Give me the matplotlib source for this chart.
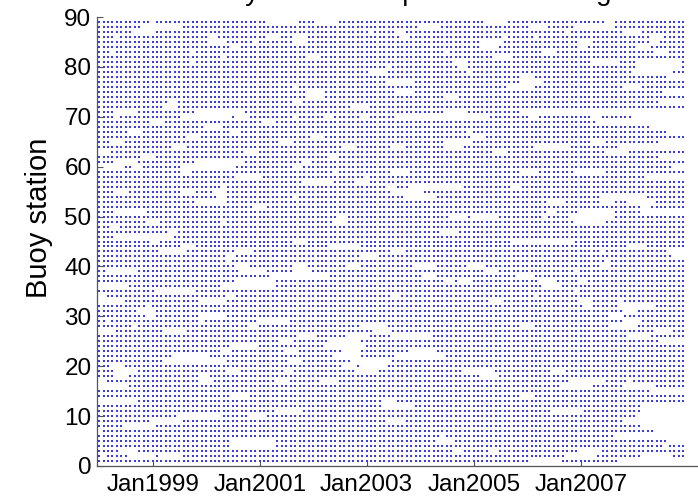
import numpy as np
import pandas as pd
import matplotlib
matplotlib.use('Agg')
import matplotlib.pyplot as plt

plt.rcParams['font.family'] = ['Liberation Sans', 'DejaVu Sans']

# monthly records, Jan 1998 .. Dec 2008
months = pd.date_range('1998-01-01', '2008-12-01', freq='MS')
stations = np.arange(1, 90)

# months with no record for each station (0 = Jan 1998), station 1 first
missing = [
    "97-103 117-131",                           # 1
    "1 7-12 14-18 105-111 122-128",
    "5-8 80-81 88-89 108-112",
    "30-39 127",
    "30-39 76-79 128-131",
    "77 116-131",
    "0 125-131",
    "6-12 122-131",
    "12-18 65-68 118-131",
    "18-27 34-37 121-131",                      # 10
    "40-45 102-108 122-131",
    "64-70 122-131",
    "0-8 64-66",
    "30-33 95-97",
    "124-131",
    "0-6 104-110 118-124",
    "0-1 23-25 40-42 50-53 106-113 119",
    "4-6 23-24 86-89",
    "4-8 29-31 42-43 58-62 82-88 102-104",
    "3-5 55-57 59-64",                          # 20
    "15-28 43-45 57-65",
    "17-24 53-58 67-77",
    "28-29 42-44 55-58 70-75",
    "30-35 51-59",
    "41-43 52-58 126-131",
    "45-48 56-60 66-74 119-123",
    "0-3 15-19 62-65 125-128",
    "8 34-35 59-64 95-97 115-120",
    "2 23 36-42 118-121",
    "11-12 23-28 115-117",                      # 30
    "9-12 118-120",
    "11 109-110 117-124",
    "0-5 23-28 88-90 108-110 117",
    "0-1 29-30 66-67 98",
    "13-21 107",
    "0-6 28-39 100-103",
    "31-39 78-79 81-83 99-102 108-109",
    "39-51 73-75 94-97",
    "2-8 32-37 44-47 87-89 107",
    "31-33 44-46 56-58 71-75 83-86 113-114",    # 40
    "29 114",
    "29-30 59-62 129-131",
    "14-19 31-34 66-68 113 128-131",
    "19-21 52-58 119-122",
    "12-13 44-46 93-106",
    "4-16",
    "16-17 77-80",
    "3-4",
    "11-13 28 53-55 107-113",
    "54-55 79-82 84-89 100 106-115",            # 50
    "4-10 101-102 108-115 122-131",
    "35-37 122-123",
    "22-28 101-104 113-115 119-124",
    "27-28 44 69-75 113-122",
    "4-6 19-21 26-28 66-72",
    "28 65-66 70-81 93-94",
    "46-52 58-60",
    "31-36 60 123-131",
    "19-20 53 66-69 95-98 107-113",
    "0-5 8-9 19-30 44-45 129-131",              # 60
    "4-8 22-32 46-47",
    "10-12 52-53 126-131",
    "0-2 33-35 89-91 114-118",
    "17-19 55-57 66-68 78-81 98-105 117-131",
    "3-5 41-43 78-83 111-113 126-131",
    "20-22 48-50 84-86",
    "7-9 30-31 83 128-131",
    "24-27 124-131",
    "12-14 37-39 112-131",
    "4 19-29 31-33 44 51-52 59-60 67-87 97-98 111-112 120-131",  # 70
    "4-8 22-32 78-82 95-131",
    "15-17 57-60",
    "16-17 44-45 126-131",
    "47-50 78-80",
    "47-50 67-70 127-131",
    "44 92-97 118-121",
    "65-70 95-99",
    "95-97 128-131",
    "61-64 83 120-128",
    "65 81-82 121-130",                         # 80
    "21 80-82 111-116 121-130",
    "28 47-49 89-92",
    "3 21 78 100-102 125-127",
    "30-31 86-89 108-109 121-123",
    "25-28 35 44-46 86-90 108-110 124-125",
    "4 25-26 38-40 44-46 68-69 91 98 124-126",
    "8-12 61 67-68 105 118-121",
    "10-18 72-76 97-100 107-115",
    "12 38-44 49-53 87-91 114-115",             # 89
]

tick_years = [1999, 2001, 2003, 2005, 2007]


def gap_months(spec):
    idx = []
    for part in spec.split():
        if '-' in part:
            a, b = part.split('-')
            idx.extend(range(int(a), int(b) + 1))
        else:
            idx.append(int(part))
    return idx


xs, ys = [], []
for st, spec in zip(stations, missing):
    have = np.ones(len(months), dtype=bool)
    have[gap_months(spec)] = False
    xs.extend(months[have])
    ys.extend([st] * int(have.sum()))

fig = plt.figure(figsize=(6.98, 4.97), dpi=100)
ax = fig.add_axes([97 / 698, 31 / 497, 1 - 97 / 698, 449 / 497])

ax.plot(xs, ys, linestyle='none', marker='s', markersize=2.1,
        markeredgewidth=0, color='#3c3cda')

t0 = pd.Timestamp('1999-01-01')
ax.set_xlim(t0 - pd.Timedelta(days=380), t0 + pd.Timedelta(days=3722))
ax.set_ylim(0, 90)
ax.set_yticks(range(0, 91, 10))
ticks = [pd.Timestamp(f'{y}-01-01') for y in tick_years]
ax.set_xticks(ticks)
ax.set_xticklabels([t.strftime('%b%Y') for t in ticks])

for side in ('top', 'right'):
    ax.spines[side].set_visible(False)
for side in ('left', 'bottom'):
    ax.spines[side].set_color('#555555')
    ax.spines[side].set_linewidth(0.9)
ax.tick_params(axis='both', direction='in', length=4, color='#555555',
               labelsize=17.5)
ax.tick_params(axis='y', pad=4)
ax.tick_params(axis='x', pad=6)

fig.text(39 / 698, 1 - 218 / 497, 'Buoy station', rotation=90,
         ha='center', va='center', fontsize=21)
fig.text(411 / 698, 1.0, 'Buoy station temperature coverage',
         ha='center', va='baseline', fontsize=20)

fig.savefig('out.png', dpi=100)
